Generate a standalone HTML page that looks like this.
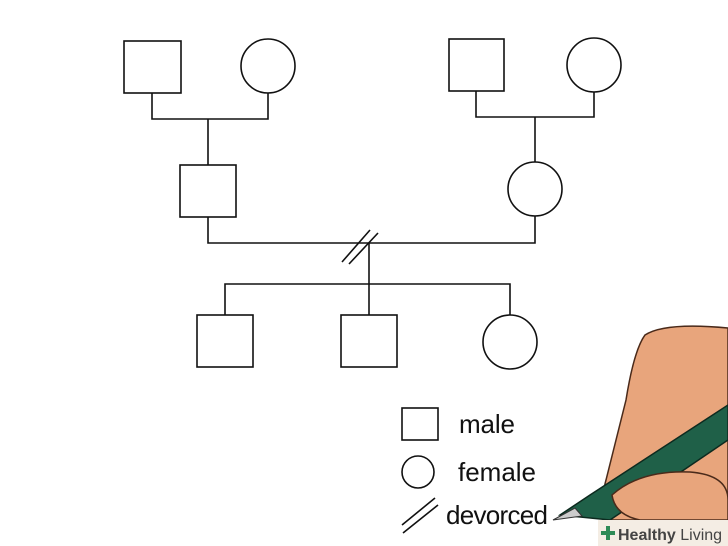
<!DOCTYPE html>
<html><head><style>body{margin:0;background:#fff}svg{display:block}</style></head><body>
<svg width="728" height="546" viewBox="0 0 728 546" xmlns="http://www.w3.org/2000/svg">
<rect width="728" height="546" fill="#fff"/>
<g fill="none" stroke="#111" stroke-width="1.6">
<rect x="124" y="41" width="57" height="52"/>
<circle cx="268" cy="66" r="27"/>
<rect x="449" y="39" width="55" height="52"/>
<circle cx="594" cy="65" r="27"/>
<polyline points="152,93 152,119 268,119 268,93"/>
<line x1="208" y1="119" x2="208" y2="165"/>
<polyline points="476,91 476,117 594,117 594,92"/>
<line x1="535" y1="117" x2="535" y2="162"/>
<rect x="180" y="165" width="56" height="52"/>
<circle cx="535" cy="189" r="27"/>
<polyline points="208,217 208,243 535,243 535,216"/>
<line x1="342" y1="262" x2="370" y2="230"/>
<line x1="349" y1="264" x2="378" y2="233"/>
<line x1="369" y1="243" x2="369" y2="315"/>
<polyline points="225,315 225,284 510,284 510,315"/>
<rect x="197" y="315" width="56" height="52"/>
<rect x="341" y="315" width="56" height="52"/>
<circle cx="510" cy="342" r="27"/>
<rect x="402" y="408" width="36" height="32"/>
<circle cx="418" cy="472" r="16"/>
<line x1="402" y1="525" x2="435" y2="498"/>
<line x1="403" y1="533" x2="438" y2="505"/>
</g>
<g font-family="Liberation Sans, sans-serif" font-size="26" fill="#111">
<text x="459" y="433" textLength="56">male</text>
<text x="458" y="481" textLength="78">female</text>
<text x="446" y="524" textLength="102">devorced</text>
</g>
<path d="M645 335 Q665 322 728 328 L728 520 L612 520 Q600 500 606 480 Q616 440 626 400 Q634 350 645 335Z" fill="#e8a57c" stroke="#4a2a1a" stroke-width="1.5"/>
<path d="M560 515 L590 495 L728 405 L728 440 L610 520 Z" fill="#1f6048" stroke="#0d2a1f" stroke-width="1.5"/>
<path d="M612 495 Q640 470 690 472 Q728 475 728 500 L728 520 L640 520 Q615 515 612 495Z" fill="#e8a57c" stroke="#4a2a1a" stroke-width="1.5"/>
<path d="M553 520 L575 508 L582 516 Z" fill="#ccc" stroke="#333"/>
<rect x="598" y="520" width="130" height="26" fill="#f4ede4"/>
<text x="618" y="540" font-family="Liberation Sans, sans-serif" font-size="16" font-weight="bold" fill="#444">Healthy <tspan font-weight="normal">Living</tspan></text>
<path d="M601 533 h14 M608 526 v14" stroke="#2e8b57" stroke-width="4"/>
</svg>
</body></html>
